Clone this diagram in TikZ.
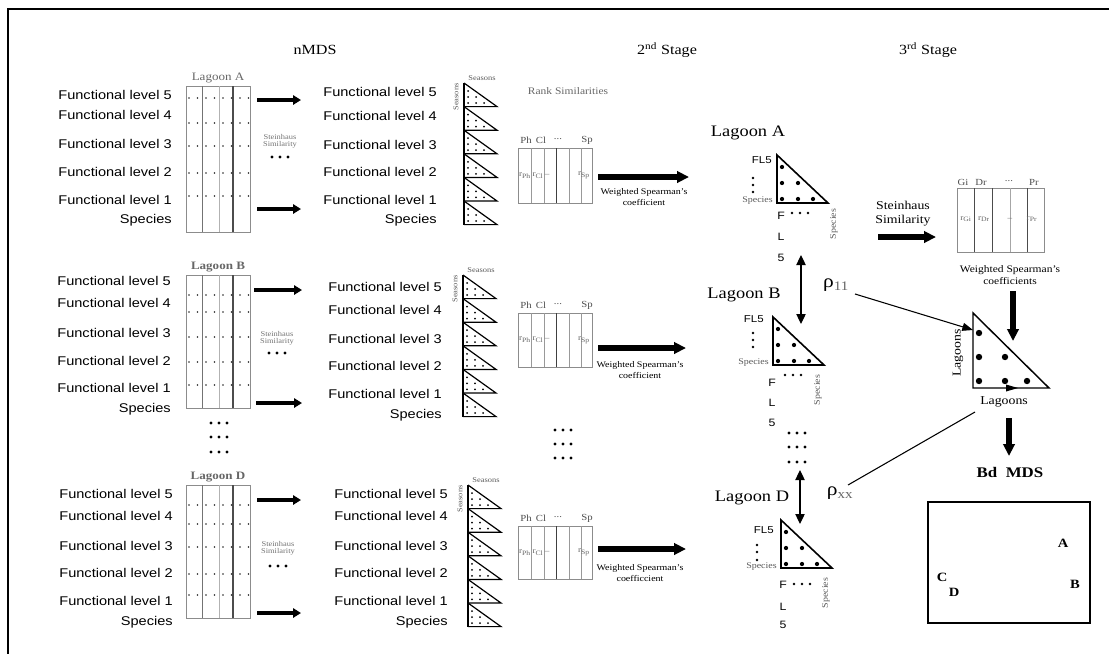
\documentclass[tikz,border=0pt]{standalone}
\usepackage{fontspec}
\setmainfont{Liberation Serif}[FakeStretch=1.15]
\newfontfamily\sansf{Liberation Sans}[FakeStretch=1.15]
\usetikzlibrary{arrows.meta}

\newcommand{\lmatrix}[5]{%
  \node[lagsmall] (#1lab) at (218,#2-8) {#5};
  \draw[black!45] (186,#2) rectangle (250,#3);
  \draw[black!55] (202.5,#2) -- (202.5,#3);
  \draw[black!30] (219,#2) -- (219,#3);
  \draw[black!70,line width=0.8pt] (233,#2) -- (233,#3);
  \foreach \yy in {#4}{\foreach \xx in {189,197.5,...,249}{\fill[black!85] (\xx,\yy) circle[radius=0.65pt];}}
  \coordinate (#1) at (218,#2);
}
\newcommand{\tstack}[3]{%
  \foreach \k in {0,...,5}{
    \pgfmathsetmacro{\yt}{#3+23.6*\k}
    \draw[line width=0.9pt] (#2,\yt) -- (#2+33,\yt+23.6) -- (#2,\yt+23.6);
    \foreach \dx/\dy in {4/8,4/14,12/14,4/20,12/20,20/20}{\fill (#2+\dx,\yt+\dy) circle[radius=0.75pt];}
  }
  \draw[line width=1.3pt] (#2,#3) -- (#2,#3+141.6);
  \coordinate (#1) at (#2,#3);
  \node[seas] (#1s1) at (#2+18,#3-5) {Seasons};
  \node[seas,rotate=90] (#1s2) at (#2-8,#3+14) {Seasons};
}
\newcommand{\rkmat}[3]{%
  \draw[black!45] (518.5,#2) rectangle (592,#3);
  \foreach \xx in {531,544,569,581}{\draw[black!40] (\xx,#2) -- (\xx,#3);}
  \draw[black!75] (556.5,#2) -- (556.5,#3);
  \node[mhead] (#1h1) at (526,#2-8) {Ph};
  \node[mhead] (#1h2) at (541,#2-8) {Cl};
  \node[mhead] (#1h3) at (558,#2-9) {...};
  \node[mhead] (#1h4) at (587,#2-8) {Sp};
  \node[cell] (#1c1) at (525,{(#2+#3)/2}) {r\textsubscript{Ph}};
  \node[cell] (#1c2) at (541,{(#2+#3)/2}) {r\textsubscript{Cl}\,--};
  \node[cell] (#1c4) at (584,{(#2+#3)/2}) {r\textsubscript{Sp}};
  \coordinate (#1) at (555,#2);
}
\newcommand{\lagtri}[4]{% name, left x, top y, label
  \node[lagbig] (#1lab) at (#2-29,#3-22) {#4};
  \draw[line width=1.2pt] (#2,#3) -- (#2+51,#3+48) -- (#2,#3+48) -- cycle;
  \foreach \dx/\dy in {5/12,5/28,21/28,5/44,21/44,36/44}{\fill (#2+\dx,#3+\dy) circle[radius=1.6pt];}
  \coordinate (#1) at (#2,#3);
}
\newcommand{\threedots}[3]{\foreach \dd in {-8,0,8}{\fill (#1+\dd,#2) circle[radius=#3];}}

\begin{document}
\begin{tikzpicture}[x=0.75pt,y=-0.75pt,
  fl/.style={font=\sansf\fontsize{9.5}{11}\selectfont,anchor=mid east,inner sep=0pt},
  hdr/.style={font=\fontsize{10.5}{12}\selectfont,inner sep=0pt},
  lagsmall/.style={font=\fontsize{8.5}{10}\selectfont,text=black!60,inner sep=0pt},
  stein/.style={font=\fontsize{5.5}{5.5}\selectfont,text=black!55,inner sep=0pt,align=center},
  seas/.style={font=\fontsize{5.5}{6}\selectfont,text=black!65,inner sep=0pt},
  mhead/.style={font=\fontsize{7}{8}\selectfont,text=black!70,inner sep=0pt},
  cell/.style={font=\fontsize{6}{7}\selectfont,text=black!60,inner sep=0pt},
  wsc/.style={font=\fontsize{6.5}{8}\selectfont,inner sep=0pt,align=center},
  lagbig/.style={font=\fontsize{12}{14}\selectfont,inner sep=0pt},
  fls/.style={font=\sansf\fontsize{7.5}{9}\selectfont,inner sep=0pt},
  flv/.style={font=\sansf\fontsize{8}{9}\selectfont,inner sep=0pt},
  spc/.style={font=\fontsize{6.5}{8}\selectfont,text=black!65,inner sep=0pt},
  rho/.style={font=\fontsize{14}{16}\selectfont,inner sep=0pt},
  lgs/.style={font=\fontsize{9}{10}\selectfont,inner sep=0pt},
  bigarr/.style={line width=3pt,-{Triangle[length=6pt,width=7pt]}},
  wideArr/.style={line width=4pt,-{Triangle[length=9pt,width=8.5pt]}},
  dblarr/.style={line width=0.9pt,{Triangle[length=7.5pt,width=7pt]}-{Triangle[length=7.5pt,width=7pt]}},
  thinarr/.style={line width=0.8pt,-{Triangle[length=8pt,width=6pt]}}
]
\useasboundingbox (0,0) rectangle (1109,653);
\draw[line width=2pt] (8,655) -- (8,9) -- (1111,9);

% headers
\node[hdr] (h1) at (315,50) {nMDS};
\node[hdr] (h2) at (667,50) {2\textsuperscript{nd} Stage};
\node[hdr] (h3) at (928,50) {3\textsuperscript{rd} Stage};

% ---------- Lagoon A row
\foreach \yy [count=\k] in {96,116,145,173,201}{\pgfmathtruncatemacro\lv{6-\k}\node[fl] (aL\k) at (172,\yy) {Functional level \lv};}
\node[fl] (aLs) at (172,220) {Species};
\lmatrix{ma}{86}{232}{98,123,146,173,196}{Lagoon A}
\coordinate (a1s) at (257,100); \coordinate (a1e) at (301,100);
\coordinate (a2s) at (257,209); \coordinate (a2e) at (301,209);
\draw[bigarr] (a1s) -- (a1e);
\draw[bigarr] (a2s) -- (a2e);
\node[stein] (ast) at (280,141) {Steinhaus\\Similarity};
\threedots{280}{157}{1.2pt}
\foreach \yy [count=\k] in {93,117,146,173,201}{\pgfmathtruncatemacro\lv{6-\k}\node[fl] (aM\k) at (437,\yy) {Functional level \lv};}
\node[fl] (aMs) at (437,220) {Species};
\tstack{sa}{464}{83}
\node[font=\fontsize{7.5}{9}\selectfont,text=black!60,inner sep=0pt] (rs) at (568,91) {Rank Similarities};
\rkmat{ra}{148}{203}
\coordinate (wa1) at (598,177); \coordinate (wa2) at (689,177);
\draw[wideArr] (wa1) -- (wa2);
\node[wsc] (wat) at (644,197) {Weighted Spearman's\\coefficient};

% ---------- Lagoon B row
\foreach \yy [count=\k] in {282,304,334,362,389}{\pgfmathtruncatemacro\lv{6-\k}\node[fl] (bL\k) at (171,\yy) {Functional level \lv};}
\node[fl] (bLs) at (171,409) {Species};
\lmatrix{mb}{275}{408}{295,312,337,362,385}{\textbf{Lagoon B}}
\coordinate (b1s) at (254,290); \coordinate (b1e) at (302,290);
\coordinate (b2s) at (256,403); \coordinate (b2e) at (302,403);
\draw[bigarr] (b1s) -- (b1e);
\draw[bigarr] (b2s) -- (b2e);
\node[stein] (bst) at (277,338) {Steinhaus\\Similarity};
\threedots{277}{353}{1.2pt}
\foreach \yy [count=\k] in {288,311,340,367,395}{\pgfmathtruncatemacro\lv{6-\k}\node[fl] (bM\k) at (442,\yy) {Functional level \lv};}
\node[fl] (bMs) at (442,415) {Species};
\tstack{sb}{463}{275}
\rkmat{rb}{313}{367}
\coordinate (wb1) at (598,348); \coordinate (wb2) at (686,348);
\draw[wideArr] (wb1) -- (wb2);
\node[wsc] (wbt) at (640,370) {Weighted Spearman's\\coefficient};

% dots between rows
\foreach \yy in {423,437,452}{\threedots{219}{\yy}{1.2pt}}
\foreach \yy in {430,444,458}{\threedots{563}{\yy}{1.2pt}}
\foreach \yy in {433,447,462}{\threedots{797}{\yy}{1.2pt}}

% ---------- Lagoon D row
\foreach \yy [count=\k] in {495,517,547,574,602}{\pgfmathtruncatemacro\lv{6-\k}\node[fl] (dL\k) at (173,\yy) {Functional level \lv};}
\node[fl] (dLs) at (173,622) {Species};
\lmatrix{md}{485}{618}{505,524,547,574,595}{\textbf{Lagoon D}}
\coordinate (d1s) at (257,500); \coordinate (d1e) at (301,500);
\coordinate (d2s) at (257,613); \coordinate (d2e) at (301,613);
\draw[bigarr] (d1s) -- (d1e);
\draw[bigarr] (d2s) -- (d2e);
\node[stein] (dst) at (278,548) {Steinhaus\\Similarity};
\threedots{278}{566}{1.2pt}
\foreach \yy [count=\k] in {495,517,547,574,602}{\pgfmathtruncatemacro\lv{6-\k}\node[fl] (dM\k) at (448,\yy) {Functional level \lv};}
\node[fl] (dMs) at (448,622) {Species};
\tstack{sd}{468}{485}
\rkmat{rd}{526}{579}
\coordinate (wd1) at (598,549); \coordinate (wd2) at (686,549);
\draw[wideArr] (wd1) -- (wd2);
\node[wsc] (wdt) at (640,573) {Weighted Spearman's\\coefficcient};

% ---------- lagoon triangles
\lagtri{ta}{777}{155}{Lagoon A}
\node[fls,anchor=mid east] (aFL) at (772,160) {FL5};
\foreach \yy in {178,185,192}{\fill (753,\yy) circle[radius=1pt];}
\node[spc,anchor=mid east] (asp) at (773,199) {Species};
\node[flv] (aF) at (781,216) {F}; \threedots{800}{213}{1pt}
\node[flv] (aLL) at (781,237) {L};
\node[flv] (a5) at (781,258) {5};
\node[spc,rotate=90] (asp2) at (834,224) {Species};

\lagtri{tb}{773}{317}{Lagoon B}
\node[fls,anchor=mid east] (bFL) at (764,319) {FL5};
\foreach \yy in {333,340,347}{\fill (753,\yy) circle[radius=1pt];}
\node[spc,anchor=mid east] (bsp) at (769,361) {Species};
\node[flv] (bF) at (772,383) {F}; \threedots{793}{375}{1pt}
\node[flv] (bLL) at (772,403) {L};
\node[flv] (b5) at (772,423) {5};
\node[spc,rotate=90] (bsp2) at (818,390) {Species};

\lagtri{td}{781}{520}{Lagoon D}
\node[fls,anchor=mid east] (dFL) at (774,530) {FL5};
\foreach \yy in {545,552,560}{\fill (757,\yy) circle[radius=1pt];}
\node[spc,anchor=mid east] (dsp) at (777,565) {Species};
\node[flv] (dF) at (783,585) {F}; \threedots{802}{584}{1pt}
\node[flv] (dLL) at (783,607) {L};
\node[flv] (d5) at (783,625) {5};
\node[spc,rotate=90] (dsp2) at (826,593) {Species};

\coordinate (ab1) at (801,255); \coordinate (ab2) at (801,324);
\draw[dblarr] (ab1) -- (ab2);
\coordinate (dd1) at (800,470); \coordinate (dd2) at (800,524);
\draw[dblarr] (dd1) -- (dd2);
\node[rho] (r11) at (836,285) {ρ\textsubscript{\color{black!60}11}};
\node[rho] (rxx) at (840,493) {ρ\textsubscript{\color{black!60}xx}};

% ---------- 3rd stage
\node[font=\fontsize{9}{10.5}\selectfont,align=center,inner sep=0pt] (st3) at (903,214) {Steinhaus\\Similarity};
\coordinate (s3a) at (878,237); \coordinate (s3b) at (936,237);
\draw[wideArr] (s3a) -- (s3b);
\draw[black!45] (957,188) rectangle (1044,252);
\foreach \xx in {974,992,1027}{\draw[black!70] (\xx,188) -- (\xx,252);}
\draw[black!35] (1010,188) -- (1010,252);
\node[mhead] (gi) at (963,182) {Gi};
\node[mhead] (dr) at (981,182) {Dr};
\node[mhead] (dots3) at (1009,181) {...};
\node[mhead] (pr) at (1034,182) {Pr};
\node[cell] (c1) at (966,219) {r\textsubscript{Gi}};
\node[cell] (c2) at (984,219) {r\textsubscript{Dr}};
\node[cell] (c3) at (1010,219) {--};
\node[cell] (c4) at (1032,219) {r\textsubscript{Pr}};
\coordinate (rm) at (1000,252);
\node[font=\fontsize{7.5}{9}\selectfont,align=center,inner sep=0pt] (wst) at (1010,275) {Weighted Spearman's\\coefficients};
\coordinate (v1a) at (1013,291); \coordinate (v1b) at (1013,341);
\draw[wideArr] (v1a) -- (v1b);

\draw[line width=1.1pt] (973,313) -- (1049,388) -- (973,388) -- cycle;
\foreach \xx/\yy in {979/333,979/357,1005/357,979/381,1005/381,1027/381}{\fill (\xx,\yy) circle[radius=2.4pt];}
\coordinate (bt) at (973,330);
\fill (1006,384.5) -- (1018,388) -- (1006,391.5) -- cycle;
\node[lgs,rotate=90] (lgr) at (958,353) {Lagoons};
\node[lgs] (lgb) at (1004,402) {Lagoons};
\coordinate (r11e) at (855,294);
\draw[thinarr] (r11e) -- (bt);
\coordinate (rxe) at (848,485); \coordinate (rxf) at (975,412);
\draw[line width=0.8pt] (rxe) -- (rxf);
\coordinate (v2a) at (1009,418); \coordinate (v2b) at (1009,456);
\draw[wideArr] (v2a) -- (v2b);
\node[font=\bfseries\fontsize{11}{13}\selectfont,inner sep=0pt] (bd) at (1010,472) {Bd\ \ MDS};
\draw[line width=0.9pt] (928,502) rectangle (1090,623);
\draw[line width=1.6pt] (1090,502) -- (1090,623);
\node[font=\bfseries\fontsize{9.5}{11}\selectfont,inner sep=0pt] (pA) at (1063,543) {A};
\node[font=\bfseries\fontsize{9.5}{11}\selectfont,inner sep=0pt] (pB) at (1075,584) {B};
\node[font=\bfseries\fontsize{9.5}{11}\selectfont,inner sep=0pt] (pC) at (942,577) {C};
\node[font=\bfseries\fontsize{9.5}{11}\selectfont,inner sep=0pt] (pD) at (954,592) {D};
\end{tikzpicture}
\end{document}
